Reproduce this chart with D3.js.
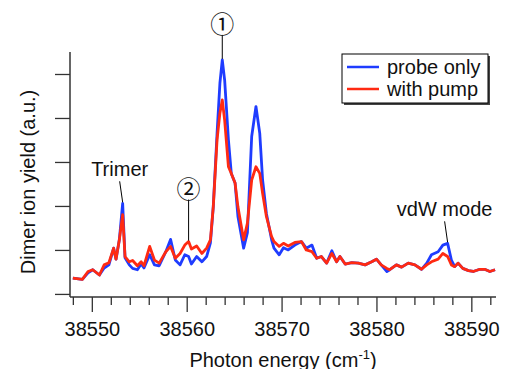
<!DOCTYPE html>
<html>
<head>
<meta charset="utf-8">
<script src="https://cdn.jsdelivr.net/npm/d3@7"></script>
<style>
  html, body { margin: 0; padding: 0; background: #fff; }
  svg { display: block; font-family: 'Liberation Sans', Arial, sans-serif; }
</style>
</head>
<body>
<div id="chart"></div>
<script>
const WIDTH = 505;
const HEIGHT = 369;
const MARGIN = { top: 52, right: 9, bottom: 72, left: 70 };

// photon energy (cm-1) of each sample
const energy = [
  38548.0, 38549.0, 38549.6, 38550.1, 38550.8, 38551.3, 38551.8, 38552.3,
  38552.55, 38552.9, 38553.25, 38553.5, 38553.95, 38554.3, 38554.8, 38555.2,
  38555.5, 38556.1, 38556.6, 38557.1, 38557.8, 38558.3, 38558.8, 38559.3,
  38559.8, 38560.2, 38560.5, 38561.05, 38561.6, 38562.1, 38562.5, 38562.8,
  38563.2, 38563.5, 38563.75, 38564.0, 38564.4, 38564.7, 38565.1, 38565.4,
  38566.0, 38566.4, 38566.85, 38567.3, 38567.7, 38568.0, 38568.4, 38568.95,
  38569.2, 38569.75, 38570.2, 38570.7, 38571.4, 38572.1, 38572.6, 38573.2,
  38573.7, 38574.2, 38574.75, 38575.3, 38575.8, 38576.15, 38576.7, 38577.4,
  38578.1, 38578.8, 38579.5, 38580.0, 38580.5, 38581.1, 38581.4, 38582.1,
  38582.65, 38583.35, 38584.05, 38584.75, 38585.3, 38585.8, 38586.5, 38587.0,
  38587.5, 38587.9, 38588.25, 38588.6, 38589.1, 38589.7, 38590.2, 38590.9,
  38591.4, 38591.95, 38592.5
];

const probeOnly = [
  0.36, 0.33, 0.48, 0.55, 0.43, 0.59, 0.66, 1.04,
  0.79, 1.23, 2.06, 0.82, 0.66, 0.58, 0.55, 0.68,
  0.59, 0.89, 0.66, 0.64, 0.96, 1.24, 0.77, 0.66,
  0.89, 0.85, 0.68, 0.85, 0.73, 0.85, 1.16, 1.98,
  3.65, 4.79, 5.32, 4.86, 3.50, 2.74, 2.52, 1.76,
  1.04, 1.39, 3.58, 4.26, 3.65, 2.59, 1.83, 1.23,
  1.04, 0.89, 1.05, 1.00, 1.11, 1.19, 1.04, 1.11,
  0.81, 0.85, 0.70, 0.98, 0.73, 0.85, 0.68, 0.71,
  0.70, 0.66, 0.73, 0.79, 0.66, 0.51, 0.55, 0.66,
  0.61, 0.70, 0.66, 0.56, 0.70, 0.89, 0.96, 1.11,
  1.15, 0.77, 0.62, 0.70, 0.58, 0.53, 0.51, 0.56,
  0.56, 0.51, 0.55
];

const withPump = [
  0.36, 0.33, 0.51, 0.55, 0.43, 0.66, 0.71, 1.04,
  0.79, 1.23, 1.80, 0.85, 0.73, 0.76, 0.64, 0.73,
  0.64, 1.08, 0.77, 0.70, 0.96, 1.08, 0.81, 0.92,
  1.11, 1.19, 1.02, 1.09, 0.92, 1.04, 1.23, 1.98,
  3.50, 4.11, 4.41, 3.95, 2.89, 2.74, 2.52, 1.98,
  1.23, 1.61, 2.59, 2.89, 2.74, 2.29, 1.76, 1.30,
  1.19, 1.08, 1.15, 1.09, 1.17, 1.19, 1.00, 0.96,
  0.81, 0.85, 0.70, 0.92, 0.73, 0.85, 0.68, 0.71,
  0.70, 0.66, 0.73, 0.79, 0.66, 0.58, 0.55, 0.66,
  0.61, 0.70, 0.66, 0.56, 0.66, 0.73, 0.79, 0.92,
  0.85, 0.66, 0.62, 0.70, 0.58, 0.53, 0.51, 0.56,
  0.56, 0.51, 0.55
];

const series = [
  { name: 'probe only', color: '#1f3cff', values: probeOnly },
  { name: 'with pump', color: '#ff2a12', values: withPump },
];

const majorTicks = [38550, 38560, 38570, 38580, 38590];
const minorTicks = [
  38548, 38552, 38554, 38556, 38558, 38562, 38564, 38566, 38568, 38572,
  38574, 38576, 38578, 38582, 38584, 38586, 38588, 38592
];
const yTicks = [0, 1, 2, 3, 4, 5];

// peak labels: text, energy of the marked peak, series it points at
const annotations = [
  { text: '\u2460', at: 38563.75, series: 0 },
  { text: '\u2461', at: 38560.2, series: 1 },
  { text: 'Trimer', at: 38553.25, series: 0 },
  { text: 'vdW mode', at: 38587.5, series: 0 },
];
// leader line length and lean per label (px)
const leaders = [
  { lift: 25, lean: 0, circled: true },
  { lift: 42, lean: 0, circled: true },
  { lift: 22, lean: -3, circled: false },
  { lift: 22, lean: -3, circled: false },
];

const x = d3.scaleLinear()
  .domain([38547.7, 38592.6])
  .range([MARGIN.left, WIDTH - MARGIN.right]);

const y = d3.scaleLinear()
  .domain([-0.07, 5.5])
  .range([HEIGHT - MARGIN.bottom, MARGIN.top]);

const svg = d3.select('#chart')
  .append('svg')
  .attr('width', WIDTH)
  .attr('height', HEIGHT);

// axes
const xAxisMajor = d3.axisBottom(x)
  .tickValues(majorTicks)
  .tickSize(15)
  .tickPadding(10)
  .tickFormat(d3.format('d'));

const xAxisMinor = d3.axisBottom(x)
  .tickValues(minorTicks)
  .tickSize(8)
  .tickFormat('');

const yAxis = d3.axisLeft(y)
  .tickValues(yTicks)
  .tickSize(15)
  .tickFormat('');

const gx = svg.append('g')
  .attr('transform', `translate(0,${HEIGHT - MARGIN.bottom})`);
gx.call(xAxisMajor);
gx.append('g').call(xAxisMinor).select('.domain').remove();

const gy = svg.append('g')
  .attr('transform', `translate(${MARGIN.left},0)`)
  .call(yAxis);

[gx, gy].forEach((g) => {
  g.selectAll('.domain')
    .attr('stroke', '#333')
    .attr('stroke-width', 1.5);
  g.selectAll('line')
    .attr('stroke', '#333')
    .attr('stroke-width', 1.3);
});

// the domain path draws outer ticks; redraw plain lines instead
gx.select('.domain')
  .attr('d', `M${MARGIN.left},0H${WIDTH - MARGIN.right}`);
gy.select('.domain')
  .attr('d', `M0,${MARGIN.top}V${HEIGHT - MARGIN.bottom}`);

gx.selectAll('text')
  .attr('fill', '#111')
  .style('font-size', '20px');

// axis titles
const xTitle = svg.append('text')
  .attr('x', (MARGIN.left + WIDTH - MARGIN.right) / 2)
  .attr('y', 367)
  .attr('text-anchor', 'middle')
  .attr('fill', '#111')
  .style('font-size', '20px')
  .text('Photon energy (cm');
xTitle.append('tspan')
  .attr('dy', -8)
  .style('font-size', '13px')
  .text('-1');
xTitle.append('tspan')
  .attr('dy', 8)
  .text(')');

svg.append('text')
  .attr('transform', 'translate(35,182) rotate(-90)')
  .attr('text-anchor', 'middle')
  .attr('fill', '#111')
  .style('font-size', '20px')
  .text('Dimer ion yield (a.u.)');

// spectra
const line = d3.line()
  .x((d, i) => x(energy[i]))
  .y((d) => y(d));

svg.append('g')
  .attr('fill', 'none')
  .attr('stroke-width', 2.8)
  .attr('stroke-linejoin', 'round')
  .selectAll('path')
  .data(series)
  .join('path')
  .attr('stroke', (d) => d.color)
  .attr('d', (d) => line(d.values));

// annotations
const gAnno = svg.append('g');
annotations.forEach((a, k) => {
  const { lift, lean, circled } = leaders[k];
  const i = energy.indexOf(a.at);
  const px = x(a.at);
  const py = y(series[a.series].values[i]);
  const top = py - lift;

  gAnno.append('line')
    .attr('x1', px + lean)
    .attr('y1', top)
    .attr('x2', px)
    .attr('y2', py - 1)
    .attr('stroke', '#000')
    .attr('stroke-width', 1);

  const label = gAnno.append('text')
    .attr('x', px + lean)
    .attr('text-anchor', 'middle')
    .attr('fill', '#111')
    .text(a.text);

  if (circled) {
    label
      .attr('y', top - 12)
      .attr('dominant-baseline', 'central')
      .style('font-family', "'Noto Sans CJK JP', 'DejaVu Sans', sans-serif")
      .style('font-size', '24px');
  } else {
    label
      .attr('y', top - 5)
      .style('font-size', '20px');
  }
});

// legend
const legend = svg.append('g')
  .attr('transform', 'translate(342,54)');

legend.append('rect')
  .attr('x', 2)
  .attr('y', 2)
  .attr('width', 146)
  .attr('height', 49)
  .attr('fill', '#444');

legend.append('rect')
  .attr('width', 146)
  .attr('height', 49)
  .attr('fill', '#fff')
  .attr('stroke', '#000')
  .attr('stroke-width', 1);

const item = legend.selectAll('g.item')
  .data(series)
  .join('g')
  .attr('class', 'item')
  .attr('transform', (d, i) => `translate(0,${13 + i * 22})`);

item.append('line')
  .attr('x1', 5)
  .attr('x2', 37)
  .attr('stroke', (d) => d.color)
  .attr('stroke-width', 2.5);

item.append('text')
  .attr('x', 45)
  .attr('y', 7)
  .attr('fill', '#111')
  .style('font-size', '20px')
  .text((d) => d.name);
</script>
</body>
</html>
